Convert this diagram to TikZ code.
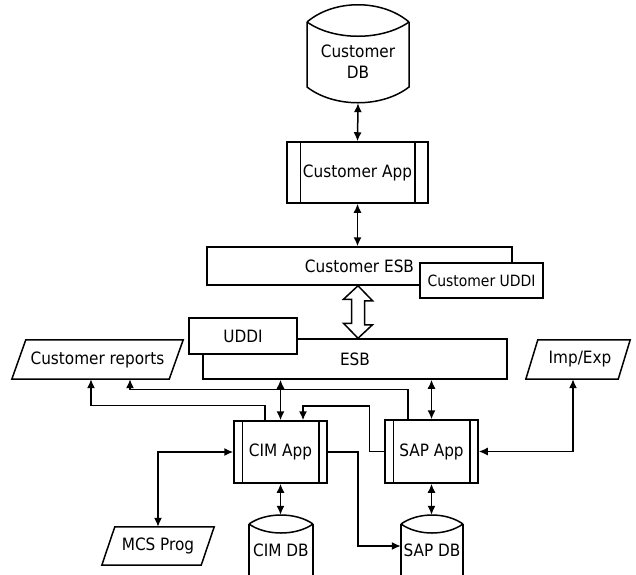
\documentclass[tikz,border=0pt]{standalone}
\usepackage{fontspec}
\setmainfont{DejaVu Sans Condensed}
\usetikzlibrary{arrows.meta,calc}
\tikzset{
  base/.style={inner sep=0pt, font=\fontsize{17}{21}\selectfont, align=center},
  box/.style={base, draw, fill=white, line width=1.5pt},
  ln/.style={line width=1.5pt},
  tip/.tip={Latex[length=9pt,width=8pt]},
  both/.style={ln, tip-tip},
  toend/.style={ln, -tip},
}
\newcommand\procbars[1]{%
  \draw[ln] ([xshift=9pt]#1.north west) -- ([xshift=9pt]#1.south west);
  \draw[ln] ([xshift=-9pt]#1.north east) -- ([xshift=-9pt]#1.south east);}
\newcommand\paraoutline[2]{%
  \draw[ln] ([xshift=-#2pt]#1.south west) -- ([xshift=-#2pt]#1.south east) -- ([xshift=#2pt]#1.north east) -- ([xshift=#2pt]#1.north west) -- cycle;}
\begin{document}
\begin{tikzpicture}[x=1pt,y=-1pt]
\useasboundingbox (0,0) rectangle (636,574);
\clip (0,0) rectangle (636,574);
\fill[white] (0,0) rectangle (636,574);

% Customer DB
\node[base, minimum width=102, minimum height=82] (cdb) at (358,62) {Customer\\DB};
\draw[ln] (307,22) .. controls (334,-1) and (382,-1) .. (409,22);
\draw[ln] (307,22) .. controls (334,41) and (382,41) .. (409,22);
\draw[ln] (307,22) -- (307,87) .. controls (334,108) and (382,108) .. (409,87) -- (409,22);

% Customer App
\node[box, minimum width=141, minimum height=61] (capp) at (357.5,172.5) {Customer App};
\draw[ln] ([xshift=14pt]capp.north west) -- ([xshift=14pt]capp.south west);
\draw[ln] ([xshift=-14pt]capp.north east) -- ([xshift=-14pt]capp.south east);

% Customer ESB + UDDI
\node[box, minimum width=305, minimum height=38] (cesb) at (359.5,266) {Customer ESB};
\node[box, minimum width=123, minimum height=35, font=\fontsize{15.5}{19}\selectfont] (cuddi) at (481.5,280.5) {Customer UDDI};

% ESB + UDDI
\node[box, minimum width=304, minimum height=40] (esb) at (355,359) {ESB};
\node[box, minimum width=108, minimum height=36] (uddi) at (243,336) {UDDI};

% Customer reports, Imp/Exp, MCS Prog
\node[base, minimum width=157, minimum height=39] (crep) at (97.5,359.5) {Customer reports};
\paraoutline{crep}{7}
\node[base, minimum width=92, minimum height=39] (imp) at (578,359.5) {\hspace{4pt}Imp/Exp};
\paraoutline{imp}{6}
\node[base, minimum width=99, minimum height=38] (mcs) at (158,546) {MCS Prog};
\paraoutline{mcs}{6.5}

% CIM App, SAP App
\node[box, minimum width=93, minimum height=62] (cim) at (280.5,452) {CIM App};
\procbars{cim}
\node[box, minimum width=93, minimum height=63] (sap) at (431.5,451.5) {SAP App};
\procbars{sap}

% CIM DB, SAP DB
\node[base, minimum width=64, minimum height=70] (cimdb) at (281,550) {CIM DB};
\draw[ln] (249,524) .. controls (266,512) and (296,512) .. (313,524);
\draw[ln] (249,524) .. controls (266,536) and (296,536) .. (313,524);
\draw[ln] (249,524) -- (249,590);
\draw[ln] (313,524) -- (313,590);
\node[base, minimum width=62, minimum height=70] (sapdb) at (432,550) {SAP DB};
\draw[ln] (401,524) .. controls (418,512) and (446,512) .. (463,524);
\draw[ln] (401,524) .. controls (418,536) and (446,536) .. (463,524);
\draw[ln] (401,524) -- (401,590);
\draw[ln] (463,524) -- (463,590);

% connectors
\draw[both] (cdb.south) -- (capp.north);
\draw[both] (capp.south) -- (capp.south |- cesb.north);
\draw[ln, fill=white] ([xshift=-1.5pt]cesb.south) -- ++(14.5,15) -- ++(-8,0) -- ++(0,24) -- ++(8,0)
  -- ([xshift=-1.5pt]cesb.south |- esb.north) -- ++(-14.5,-15) -- ++(8,0) -- ++(0,-24) -- ++(-8,0) -- cycle;
\draw[both] (esb.south -| cim.north) -- (cim.north);
\draw[both] (esb.south -| sap.north) -- (sap.north);
\draw[toend] ([xshift=-15.5pt]cim.north) -- ++(0,-15) -| ([xshift=-6.5pt]crep.south);
\draw[toend] ([xshift=-23.5pt]sap.north) -- ++(0,-30) -| ([xshift=32.5pt]crep.south);
\draw[toend] (sap.west) -- ++(-15,0) -- ++(0,-45.5) -| ([xshift=22.5pt]cim.north);
\draw[toend] (cim.east) -- ++(30,0) |- ([yshift=4pt]sapdb.west);
\draw[both] (sap.east) -| ([xshift=-5pt]imp.south);
\draw[both] (cim.west) -| (mcs.north);
\draw[both] (cim.south) -- (cim.south |- cimdb.north);
\draw[both] (sap.south) -- (sap.south |- sapdb.north);
\end{tikzpicture}
\end{document}
